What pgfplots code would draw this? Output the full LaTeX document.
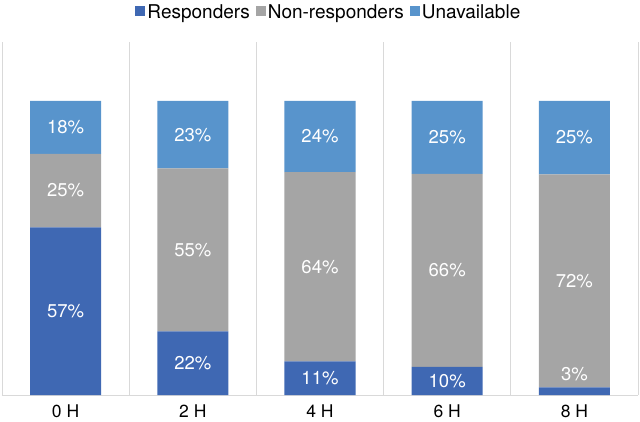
\documentclass[border=0pt]{standalone}
\usepackage{pgfplots}
\usepackage{pgfplotstable}
\pgfplotsset{compat=1.18}
\usepackage{fontspec}
\setmainfont{TeX Gyre Heros}
\definecolor{resp}{HTML}{3F68B3}
\definecolor{nonresp}{HTML}{A5A5A5}
\definecolor{unav}{HTML}{5894CC}
\definecolor{gridc}{HTML}{D9D9D9}

% x = time point index, h = share in percent
\pgfplotstableread{
x h
0 57
1 21.6
2 11.4
3 9.6
4 2.6
}\tresp
\pgfplotstableread{
x h
0 25
1 55.4
2 64.4
3 65.6
4 72.4
}\tnonresp
\pgfplotstableread{
x h
0 18
1 23
2 24.2
3 24.8
4 25
}\tunav
% data labels: position (middle of each segment) and printed value
\pgfplotstableread{
x y    lab
0 28.5 57
1 10.8 22
2 5.7  11
3 4.8  10
4 7.2  3
0 69.5 25
1 49.3 55
2 43.6 64
3 42.4 66
4 38.8 72
0 91   18
1 88.5 23
2 87.9 24
3 87.6 25
4 87.5 25
}\tlabels

\pgfplotsset{common/.style={
  at={(2pt,26pt)}, anchor=south west,
  scale only axis, width=636pt, height=353pt,
  xmin=-0.5, xmax=4.5, ymin=0, ymax=120}}

\begin{document}
\begin{tikzpicture}[font=\fontsize{19}{22}\selectfont]
\useasboundingbox (0,0) rectangle (640pt,421pt);
\begin{axis}[
  common,
  ybar stacked, bar width=71pt,
  xtick={0,1,2,3,4}, xticklabels={0 H,2 H,4 H,6 H,8 H},
  minor xtick={-0.5,0.5,1.5,2.5,3.5,4.5},
  xminorgrids, minor grid style={gridc, line width=0.8pt},
  axis x line*=bottom, hide y axis,
  x axis line style={gridc, line width=0.8pt, -},
  major tick length=0pt, minor tick length=0pt,
  xticklabel style={font=\fontsize{17.5}{20}\selectfont, yshift=-6pt},
  legend style={at={(0.514,1.085)}, anchor=center, draw=none, fill=none,
    legend columns=-1, font=\fontsize{19}{22}\selectfont,
    /tikz/every even column/.append style={column sep=4pt}},
  legend image code/.code={\fill[#1] (0pt,-4pt) rectangle (10pt,6pt);},
]
\addplot[fill=resp, draw=none] table[x=x, y=h] {\tresp};
\addplot[fill=nonresp, draw=none] table[x=x, y=h] {\tnonresp};
\addplot[fill=unav, draw=none] table[x=x, y=h] {\tunav};
\legend{Responders, Non-responders, Unavailable}
\end{axis}
\begin{axis}[
  common, hide axis,
  point meta=explicit symbolic,
  nodes near coords={\pgfplotspointmeta\%},
  every node near coord/.append style={white, anchor=center,
    font=\fontsize{18.5}{21}\selectfont},
]
\addplot[only marks, mark=*, mark size=0pt, mark options={draw=none, fill=none}]
  table[x=x, y=y, meta=lab] {\tlabels};
\end{axis}
\end{tikzpicture}
\end{document}
